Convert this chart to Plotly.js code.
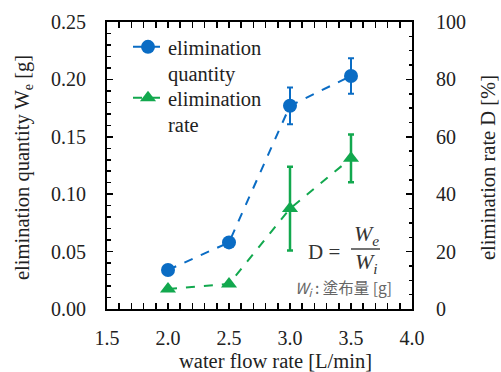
<!DOCTYPE html>
<html>
<head>
<meta charset="utf-8">
<script src="https://cdn.plot.ly/plotly-3.0.1.min.js"></script>
<style>html,body{margin:0;padding:0;background:#fff;}#chart{width:501px;height:372px;}</style>
</head>
<body>
<div id="chart"></div>
<script>
const flowRate = [2.0, 2.5, 3.0, 3.5];
const elimQuantity = [0.034, 0.058, 0.177, 0.203];
const elimQuantityErr = [0.0, 0.0, 0.016, 0.0155];
const elimRate = [7.0, 8.7, 35.0, 52.5];
const elimRateErr = [0.0, 0.0, 14.6, 8.3];
const xTicks = [1.5, 2.0, 2.5, 3.0, 3.5, 4.0];

const blue = '#0A6CC4';
const green = '#12A84E';
const serif = 'Liberation Serif, Times New Roman, serif';

const traces = [
  {
    x: flowRate, y: elimQuantity, name: 'elimination<br>quantity',
    type: 'scatter', mode: 'lines+markers',
    line: {color: blue, width: 2, dash: 'dash'},
    marker: {color: blue, size: 14, symbol: 'circle'},
    error_y: {type: 'data', array: elimQuantityErr, visible: true, color: blue, thickness: 2, width: 3},
    yaxis: 'y', legend: 'legend'
  },
  {
    x: flowRate, y: elimRate, name: 'elimination<br>rate',
    type: 'scatter', mode: 'lines+markers',
    line: {color: green, width: 2, dash: 'dash'},
    marker: {color: green, size: 14, symbol: 'triangle-up'},
    error_y: {type: 'data', array: elimRateErr, visible: true, color: green, thickness: 2.5, width: 3},
    yaxis: 'y2', legend: 'legend2'
  }
];

const L = 107, R = 412, T = 22, B = 309;
const px = v => (v - L) / (R - L);
const py = v => (B - v) / (B - T);

const legendBase = {
  xanchor: 'left', yanchor: 'top',
  valign: 'top', bgcolor: 'rgba(0,0,0,0)', borderwidth: 0,
  font: {family: serif, size: 20.5, color: '#222'},
  tracegroupgap: 0, itemwidth: 30
};

const titleFont = {family: serif, size: 20.5, color: '#222'};

const layout = {
  width: 501, height: 372,
  margin: {l: L, r: 501 - R, t: T, b: 372 - B},
  paper_bgcolor: '#fff', plot_bgcolor: '#fff',
  font: {family: serif, size: 20, color: '#222'},
  showlegend: true,
  legend: Object.assign({}, legendBase, {x: px(128), y: py(27)}),
  legend2: Object.assign({}, legendBase, {x: px(128), y: py(78)}),
  xaxis: {
    range: [1.5, 4.0], tickvals: xTicks, ticktext: xTicks.map(v => v.toFixed(1)),
    showline: true, linecolor: '#000', linewidth: 2, mirror: 'allticks',
    ticks: 'inside', ticklen: 6, tickwidth: 1.5, tickcolor: '#000',
    minor: {dtick: 0.1, tick0: 1.5, ticks: 'inside', ticklen: 3.5, tickwidth: 1.5, tickcolor: '#000'},
    showgrid: false, zeroline: false,
    ticklabelstandoff: 10,
    tickfont: {family: serif, size: 20, color: '#222'}
  },
  yaxis: {
    range: [0, 0.25], dtick: 0.05, tick0: 0, tickformat: '.2f',
    showline: true, linecolor: '#000', linewidth: 2,
    ticks: 'inside', ticklen: 6, tickwidth: 1.5, tickcolor: '#000',
    minor: {dtick: 0.01, ticks: 'inside', ticklen: 3.5, tickwidth: 1.5, tickcolor: '#000'},
    showgrid: false, zeroline: false,
    ticklabelstandoff: 15,
    tickfont: {family: serif, size: 20, color: '#222'}
  },
  yaxis2: {
    overlaying: 'y', side: 'right',
    range: [0, 100], dtick: 20, tick0: 0,
    showline: true, linecolor: '#000', linewidth: 2,
    ticks: 'inside', ticklen: 6, tickwidth: 1.5, tickcolor: '#000',
    minor: {dtick: 5, ticks: 'inside', ticklen: 3.5, tickwidth: 1.5, tickcolor: '#000'},
    showgrid: false, zeroline: false,
    ticklabelstandoff: 18,
    tickfont: {family: serif, size: 20, color: '#222'}
  },
  shapes: [
    {type: 'line', xref: 'paper', yref: 'paper', x0: px(351), x1: px(380), y0: py(249), y1: py(249),
     line: {color: '#444', width: 1.5}}
  ],
  annotations: [
    {xref: 'paper', yref: 'paper', x: px(275), y: py(361), text: 'water flow rate [L/min]', showarrow: false,
     xanchor: 'center', yanchor: 'middle', font: titleFont},
    {xref: 'paper', yref: 'paper', x: px(23), y: py(168), text: 'elimination quantity W<sub>e</sub> [g]', showarrow: false,
     textangle: -90, xanchor: 'center', yanchor: 'middle', font: titleFont},
    {xref: 'paper', yref: 'paper', x: px(488), y: py(168), text: 'elimination rate D [%]', showarrow: false,
     textangle: -90, xanchor: 'center', yanchor: 'middle', font: titleFont},
    {xref: 'paper', yref: 'paper', x: px(324), y: py(252), text: 'D =', showarrow: false,
     xanchor: 'center', yanchor: 'middle', font: {family: serif, size: 21, color: '#333'}},
    {xref: 'paper', yref: 'paper', x: px(366), y: py(235), text: '<i>W<sub>e</sub></i>', showarrow: false,
     xanchor: 'center', yanchor: 'middle', font: {family: serif, size: 22, color: '#333'}},
    {xref: 'paper', yref: 'paper', x: px(366), y: py(263), text: '<i>W<sub>i</sub></i>', showarrow: false,
     xanchor: 'center', yanchor: 'middle', font: {family: serif, size: 22, color: '#333'}},
    {xref: 'paper', yref: 'paper', x: px(343), y: py(288), text: '<i>W<sub>i</sub></i> : 塗布量 [g]', showarrow: false,
     xanchor: 'center', yanchor: 'middle', font: {family: 'Noto Sans CJK JP, Noto Sans, sans-serif', size: 15.5, color: '#666'}}
  ]
};

Plotly.newPlot('chart', traces, layout, {displayModeBar: false, staticPlot: true});
</script>
</body>
</html>
